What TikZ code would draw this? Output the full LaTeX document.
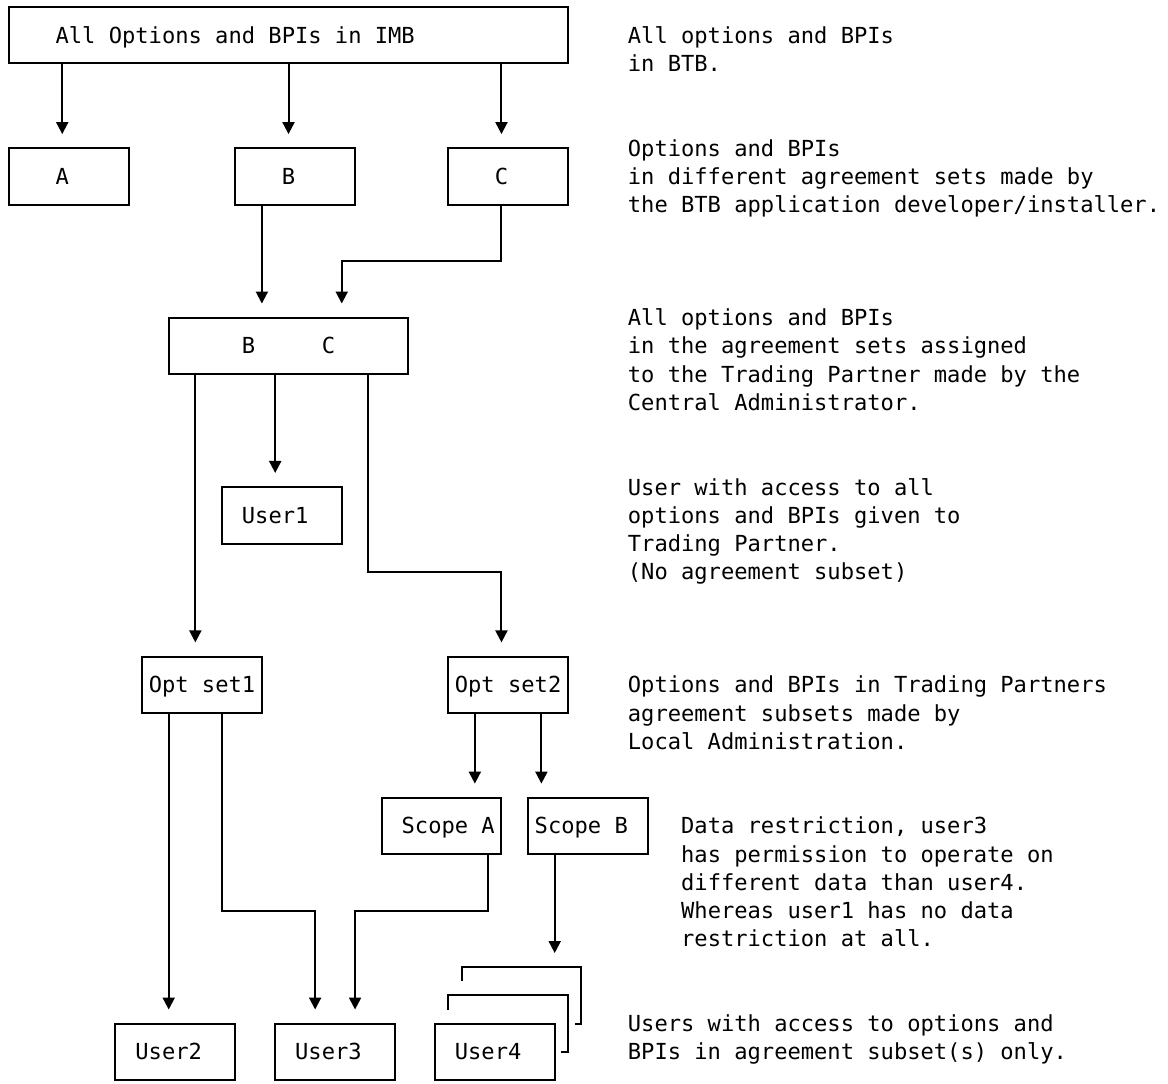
\documentclass[tikz,border=0pt]{standalone}
\usepackage{fontspec}
\newfontfamily\diagmono{DejaVu Sans Mono}
\usetikzlibrary{arrows.meta}
\begin{document}
\begin{tikzpicture}[x=13.31pt, y=-28.24pt,
  cellbox/.style 2 args={draw, line width=2pt, inner sep=0pt, outer sep=0pt,
    minimum width=#1*13.31pt, minimum height=#2*28.24pt},
  lbl/.style={anchor=base west, inner sep=0pt, outer sep=0pt,
    font=\diagmono\fontsize{22.1pt}{28.24pt}\selectfont},
  wire/.style={line width=2pt},
  arr/.style={wire, -{Triangle[width=12pt,length=12pt]}, shorten >=14.12pt}]

\useasboundingbox (-0.6762,-0.2479) rectangle (87.0774,38.1020);
\fill[white] (-0.6762,-0.2479) rectangle (87.0774,38.1020);

% ---------- boxes ----------
\node[cellbox={42}{2}] (top) at (21,1) {};
\node[cellbox={9}{2}]  (A)   at (4.5,6) {};
\node[cellbox={9}{2}]  (B)   at (21.5,6) {};
\node[cellbox={9}{2}]  (C)   at (37.5,6) {};
\node[cellbox={18}{2}] (BC)  at (21,12) {};
\node[cellbox={9}{2}]  (U1)  at (20.5,18) {};
\node[cellbox={9}{2}]  (O1)  at (14.5,24) {};
\node[cellbox={9}{2}]  (O2)  at (37.5,24) {};
\node[cellbox={9}{2}]  (SA)  at (32.5,29) {};
\node[cellbox={9}{2}]  (SB)  at (43.5,29) {};
\node[cellbox={9}{2}]  (U2)  at (12.5,37) {};
\node[cellbox={9}{2}]  (U3)  at (24.5,37) {};
\node[cellbox={9}{2}]  (U4)  at (36.5,37) {};

% stacked copies behind User4
\draw[wire] (34,34.5) -- (34,34) -- (43,34) -- (43,36) -- (42.5,36);
\draw[wire] (33,35.5) -- (33,35) -- (42,35) -- (42,37) -- (41.5,37);
\coordinate (stk) at (41,34);

% ---------- box texts ----------
\node[lbl] (tTop) at (3.5,1.283)   {All Options and BPIs in IMB};
\node[lbl] (tA)   at (3.5,6.283)   {A};
\node[lbl] (tB)   at (20.5,6.283)  {B};
\node[lbl] (tC)   at (36.5,6.283)  {C};
\node[lbl] (tBC1) at (17.5,12.283) {B};
\node[lbl] (tBC2) at (23.5,12.283) {C};
\node[lbl] (tU1)  at (17.5,18.283) {User1};
\node[lbl] (tO1)  at (10.5,24.283) {Opt set1};
\node[lbl] (tO2)  at (33.5,24.283) {Opt set2};
\node[lbl] (tSA)  at (29.5,29.283) {Scope A};
\node[lbl] (tSB)  at (39.5,29.283) {Scope B};
\node[lbl] (tU2)  at (9.5,37.283)  {User2};
\node[lbl] (tU3)  at (21.5,37.283) {User3};
\node[lbl] (tU4)  at (33.5,37.283) {User4};

% ---------- descriptions ----------
\node[lbl] (d1a) at (46.5,1.283) {All options and BPIs};
\node[lbl] (d1b) at (46.5,2.283) {in BTB.};

\node[lbl] (d2a) at (46.5,5.283) {Options and BPIs};
\node[lbl] (d2b) at (46.5,6.283) {in different agreement sets made by};
\node[lbl] (d2c) at (46.5,7.283) {the BTB application developer/installer.};

\node[lbl] (d3a) at (46.5,11.283) {All options and BPIs};
\node[lbl] (d3b) at (46.5,12.283) {in the agreement sets assigned};
\node[lbl] (d3c) at (46.5,13.283) {to the Trading Partner made by the};
\node[lbl] (d3d) at (46.5,14.283) {Central Administrator.};

\node[lbl] (d4a) at (46.5,17.283) {User with access to all};
\node[lbl] (d4b) at (46.5,18.283) {options and BPIs given to};
\node[lbl] (d4c) at (46.5,19.283) {Trading Partner.};
\node[lbl] (d4d) at (46.5,20.283) {(No agreement subset)};

\node[lbl] (d5a) at (46.5,24.283) {Options and BPIs in Trading Partners};
\node[lbl] (d5b) at (46.5,25.283) {agreement subsets made by};
\node[lbl] (d5c) at (46.5,26.283) {Local Administration.};

\node[lbl] (d6a) at (50.5,29.283) {Data restriction, user3};
\node[lbl] (d6b) at (50.5,30.283) {has permission to operate on};
\node[lbl] (d6c) at (50.5,31.283) {different data than user4.};
\node[lbl] (d6d) at (50.5,32.283) {Whereas user1 has no data};
\node[lbl] (d6e) at (50.5,33.283) {restriction at all.};

\node[lbl] (d7a) at (46.5,36.283) {Users with access to options and};
\node[lbl] (d7b) at (46.5,37.283) {BPIs in agreement subset(s) only.};

% ---------- connectors ----------
\foreach \c in {4,12,14,19,20,21,35,37,40} {\coordinate (x\c) at (\c,0);}

\draw[arr] (top.south -| x4)  -- (A.north -| x4);
\draw[arr] (top.south -| x21) -- (B.north -| x21);
\draw[arr] (top.south -| x37) -- (C.north -| x37);

\draw[arr] (B.south -| x19) -- (BC.north -| x19);
\coordinate (cb1) at (37,9);
\coordinate (cb2) at (25,9);
\draw[arr] (C.south -| cb1) -- (cb1) -- (cb2) -- (BC.north -| cb2);

\draw[arr] (BC.south -| x14) -- (O1.north -| x14);
\draw[arr] (BC.south -| x20) -- (U1.north -| x20);
\coordinate (ob1) at (27,20);
\coordinate (ob2) at (37,20);
\draw[arr] (BC.south -| ob1) -- (ob1) -- (ob2) -- (O2.north -| ob2);

\draw[arr] (O1.south -| x12) -- (U2.north -| x12);
\coordinate (ub1) at (16,32);
\coordinate (ub2) at (23,32);
\draw[arr] (O1.south -| ub1) -- (ub1) -- (ub2) -- (U3.north -| ub2);

\draw[arr] (O2.south -| x35) -- (SA.north -| x35);
\draw[arr] (O2.south -| x40) -- (SB.north -| x40);

\coordinate (sb1) at (36,32);
\coordinate (sb2) at (26,32);
\draw[arr] (SA.south -| sb1) -- (sb1) -- (sb2) -- (U3.north -| sb2);

\draw[arr] (SB.south -| stk) -- (stk);
\end{tikzpicture}
\end{document}
